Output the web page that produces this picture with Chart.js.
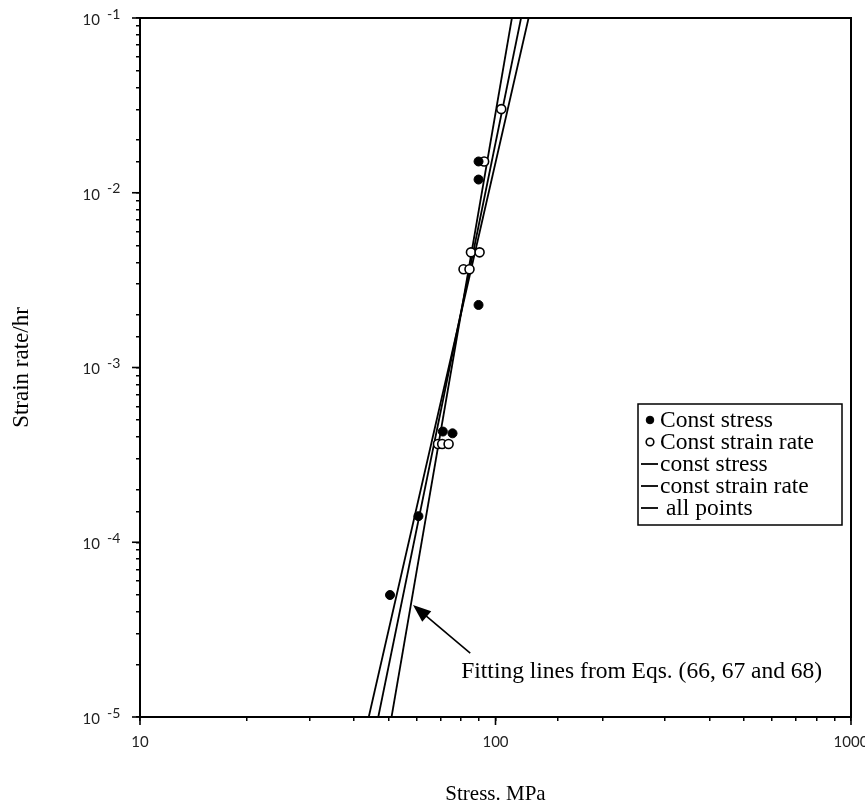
<!DOCTYPE html>
<html>
<head>
<meta charset="utf-8">
<script src="https://cdn.jsdelivr.net/npm/chart.js@4.4.0/dist/chart.umd.min.js"></script>
<style>
  html, body { margin: 0; padding: 0; background: #fff; }
</style>
</head>
<body>
<canvas id="chart" width="865" height="809"></canvas>
<script>
// creep tests: stress in MPa, strain rate in 1/hr
var stressConstStress = [50.5, 60.7, 71.1, 75.7, 89.6, 89.6, 89.6];
var rateConstStress   = [4.99e-5, 1.41e-4, 4.3e-4, 4.2e-4, 1.51e-2, 1.19e-2, 2.28e-3];

var stressConstRate = [68.9, 70.8, 73.8, 81.3, 84.5, 85.3, 90.2, 92.9, 103.8];
var rateConstRate   = [3.65e-4, 3.65e-4, 3.65e-4, 3.65e-3, 3.65e-3, 4.56e-3, 4.56e-3, 1.51e-2, 3.01e-2];

// fitted lines, given at the bottom and top of the rate axis
var fitRate = [1e-5, 1e-1];
var fitStressConstStress = [44.0, 123.9];
var fitStressConstRate = [46.8, 118.0];
var fitStressAll = [51.0, 111.2];

var xTickValues = [10, 100, 1000];
var yTickExponents = [-1, -2, -3, -4, -5];

var legendLabels = ['Const stress', 'Const strain rate', 'const stress', 'const strain rate', ' all points'];

// arrow note, in data units (stress, rate)
var noteText = 'Fitting lines from Eqs. (66, 67 and 68)';
var noteAt = [80.1, 1.81e-5];
var arrowFrom = [84.9, 2.32e-5];
var arrowTo = [58.6, 4.38e-5];

function pts(xs, ys) {
  return xs.map(function (x, i) { return { x: x, y: ys[i] }; });
}

var SERIF = '"Liberation Serif", "DejaVu Serif", serif';
var SANS = 'Lato, "Noto Sans", sans-serif';

function lineSet(label, xs) {
  return {
    label: label,
    data: pts(xs, fitRate),
    showLine: true,
    borderColor: '#000',
    borderWidth: 1.8,
    pointRadius: 0,
    tension: 0,
    order: 2
  };
}

var datasets = [
  {
    label: legendLabels[0],
    data: pts(stressConstStress, rateConstStress),
    pointStyle: 'circle',
    pointRadius: 4.5,
    backgroundColor: '#000',
    borderColor: '#000',
    borderWidth: 1,
    order: 0
  },
  {
    label: legendLabels[1],
    data: pts(stressConstRate, rateConstRate),
    pointStyle: 'circle',
    pointRadius: 4.5,
    backgroundColor: '#fff',
    borderColor: '#000',
    borderWidth: 1.6,
    order: 1
  },
  lineSet(legendLabels[2], fitStressConstStress),
  lineSet(legendLabels[3], fitStressConstRate),
  lineSet(legendLabels[4], fitStressAll)
];

var decorations = {
  id: 'decorations',
  afterDraw: function (chart) {
    var ctx = chart.ctx;
    var a = chart.chartArea;
    var xs = chart.scales.x, ys = chart.scales.y;
    ctx.save();

    // frame
    ctx.strokeStyle = '#000';
    ctx.lineWidth = 2;
    ctx.strokeRect(a.left, a.top, a.right - a.left, a.bottom - a.top);

    // major ticks and labels
    ctx.lineWidth = 1.6;
    ctx.fillStyle = '#222';
    ctx.font = '15px ' + SANS;
    ctx.textAlign = 'center';
    ctx.textBaseline = 'middle';
    xTickValues.forEach(function (v) {
      var px = xs.getPixelForValue(v);
      ctx.beginPath();
      ctx.moveTo(px, a.bottom);
      ctx.lineTo(px, a.bottom + 8);
      ctx.stroke();
      ctx.fillText(String(v), px, a.bottom + 25);
    });
    yTickExponents.forEach(function (e) {
      var py = ys.getPixelForValue(Math.pow(10, e));
      ctx.beginPath();
      ctx.moveTo(a.left - 8, py);
      ctx.lineTo(a.left, py);
      ctx.stroke();
      ctx.font = '15px ' + SANS;
      ctx.textAlign = 'right';
      ctx.fillText('10', a.left - 40, py + 2);
      ctx.font = '14px ' + SANS;
      ctx.textAlign = 'left';
      ctx.fillText(String(e), a.left - 33, py - 4);
    });

    // axis titles
    ctx.fillStyle = '#000';
    ctx.font = '21px ' + SERIF;
    ctx.textAlign = 'center';
    ctx.fillText('Stress. MPa', (a.left + a.right) / 2, 794);
    ctx.save();
    ctx.translate(22, (a.top + a.bottom) / 2);
    ctx.rotate(-Math.PI / 2);
    ctx.font = '23px ' + SERIF;
    ctx.fillText('Strain rate/hr', 0, 0);
    ctx.restore();

    // legend box
    var bx = 638, by = 404, bw = 204, bh = 121, row = 22;
    ctx.lineWidth = 1.5;
    ctx.strokeRect(bx, by, bw, bh);
    ctx.font = '23.5px ' + SERIF;
    ctx.textAlign = 'left';
    for (var i = 0; i < legendLabels.length; i++) {
      var cy = by + 16 + i * row;
      var ds = datasets[i];
      if (ds.showLine) {
        ctx.lineWidth = 1.8;
        ctx.beginPath();
        ctx.moveTo(bx + 3, cy);
        ctx.lineTo(bx + 20, cy);
        ctx.stroke();
      } else {
        ctx.beginPath();
        ctx.arc(bx + 12, cy, 3.8, 0, Math.PI * 2);
        ctx.fillStyle = ds.backgroundColor;
        ctx.fill();
        ctx.lineWidth = ds.borderWidth;
        ctx.stroke();
      }
      ctx.fillStyle = '#000';
      ctx.fillText(ds.label, bx + 22, cy + 1);
    }

    // arrow with note
    var x0 = xs.getPixelForValue(arrowFrom[0]), y0 = ys.getPixelForValue(arrowFrom[1]);
    var x1 = xs.getPixelForValue(arrowTo[0]), y1 = ys.getPixelForValue(arrowTo[1]);
    var ang = Math.atan2(y1 - y0, x1 - x0);
    ctx.lineWidth = 1.6;
    ctx.beginPath();
    ctx.moveTo(x0, y0);
    ctx.lineTo(x1 - 12 * Math.cos(ang), y1 - 12 * Math.sin(ang));
    ctx.stroke();
    ctx.beginPath();
    ctx.moveTo(x1, y1);
    ctx.lineTo(x1 - 18 * Math.cos(ang) + 7 * Math.sin(ang), y1 - 18 * Math.sin(ang) - 7 * Math.cos(ang));
    ctx.lineTo(x1 - 18 * Math.cos(ang) - 7 * Math.sin(ang), y1 - 18 * Math.sin(ang) + 7 * Math.cos(ang));
    ctx.closePath();
    ctx.fill();
    ctx.font = '23.5px ' + SERIF;
    ctx.fillText(noteText, xs.getPixelForValue(noteAt[0]), ys.getPixelForValue(noteAt[1]));

    ctx.restore();
  }
};

new Chart(document.getElementById('chart').getContext('2d'), {
  type: 'scatter',
  data: { datasets: datasets },
  options: {
    responsive: false,
    animation: false,
    layout: { padding: { left: 136, top: 18, right: 14, bottom: 88 } },
    plugins: { legend: { display: false }, tooltip: { enabled: false } },
    scales: {
      x: {
        type: 'logarithmic',
        min: 10,
        max: 1000,
        border: { display: false },
        grid: { drawOnChartArea: false, drawTicks: true, tickLength: 4, color: '#000', lineWidth: 1.5 },
        ticks: { display: false }
      },
      y: {
        type: 'logarithmic',
        min: 1e-5,
        max: 1e-1,
        border: { display: false },
        grid: { drawOnChartArea: false, drawTicks: true, tickLength: 4, color: '#000', lineWidth: 1.5 },
        ticks: { display: false }
      }
    }
  },
  plugins: [decorations]
});
</script>
</body>
</html>
